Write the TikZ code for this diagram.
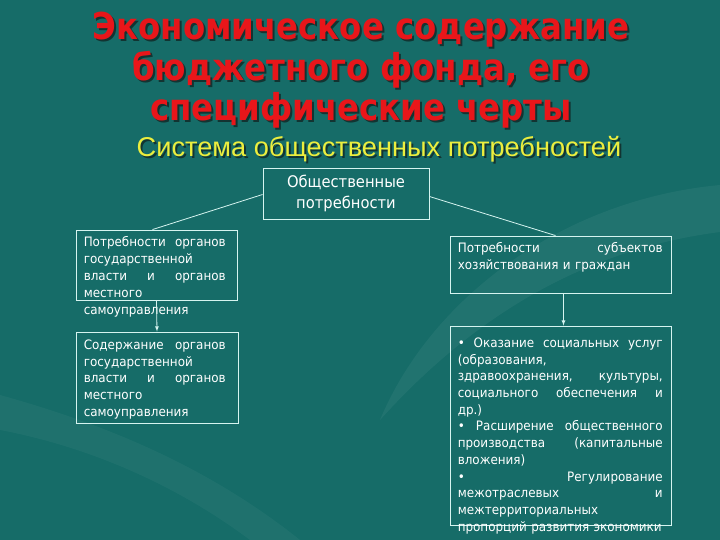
\documentclass[tikz,border=0pt]{standalone}
\usepackage{fontspec}
\setmainfont{DejaVu Sans}
\newfontfamily\titlefont[FakeStretch=0.875]{DejaVu Sans Bold}
\newfontfamily\subfont{Liberation Sans}
\newfontfamily\boxfont[FakeStretch=0.92]{DejaVu Sans}
\usetikzlibrary{positioning}

\definecolor{slidebg}{RGB}{22,108,104}
\definecolor{titlered}{RGB}{232,22,26}
\definecolor{titleshade}{RGB}{18,52,50}
\definecolor{subyellow}{RGB}{236,238,62}
\definecolor{boxline}{RGB}{214,244,240}

% text with a dark shade below right
\newcommand{\shaded}[1]{\makebox[0pt][l]{\hspace{2pt}\raisebox{-2pt}{\color{titleshade}#1}}#1}

\tikzset{
  box/.style={draw=boxline, line width=0.9pt, inner sep=0pt},
  boxtext/.style={text=white, inner sep=0pt, align=left, anchor=north west,
    font=\boxfont\fontsize{13}{16.8}\selectfont},
  link/.style={draw=boxline, line width=0.8pt},
  title/.style={text=titlered, font=\titlefont\fontsize{37}{40}\selectfont,
    anchor=base}
}

\begin{document}
\begin{tikzpicture}[x=1pt,y=-1pt]
  \fill[slidebg] (0,0) rectangle (720,540);
  % faint swooshes of the slide background
  \fill[white, opacity=0.05] (720,185) .. controls (560,200) and (430,300) .. (380,420)
    .. controls (470,320) and (580,250) .. (720,232) -- cycle;
  \fill[white, opacity=0.04] (0,395) .. controls (90,420) and (200,460) .. (300,540)
    -- (250,540) .. controls (170,480) and (80,445) .. (0,430) -- cycle;

  % title
  \foreach \t/\y in {{Экономическое содержание}/40, {бюджетного фонда, его}/81,
    {специфические черты}/121}
    \node[title] (t\y) at (361,\y) {\shaded{\t}};
  \node[text=subyellow, anchor=base, font=\subfont\fontsize{27.2}{30}\selectfont]
    (sub) at (379,157) {\shaded{Система общественных потребностей}};

  % boxes
  \node[box, minimum width=166, minimum height=51, align=center, text=white,
    font=\boxfont\fontsize{16}{21}\selectfont] (soc) at (346,193.5)
    {Общественные\\потребности};
  \node[box, minimum width=161, minimum height=70] (orgneed) at (156.5,265) {};
  \node[box, minimum width=162, minimum height=91] (orgcont) at (157,377.5) {};
  \node[box, minimum width=221, minimum height=57] (subjneed) at (560.5,264.5) {};
  \node[box, minimum width=221, minimum height=199] (services) at (560.5,425.5) {};

  \node[boxtext, text width=142] at ([shift={(8,7)}]orgneed.north west)
    {Потребности\hfill органов\\государственной\\власти\hfill и\hfill органов\\местного\\самоуправления};
  \node[boxtext, text width=142] at ([shift={(8,8)}]orgcont.north west)
    {Содержание\hfill органов\\государственной\\власти\hfill и\hfill органов\\местного\\самоуправления};
  \node[boxtext, text width=205] at ([shift={(8,7)}]subjneed.north west)
    {Потребности\hfill субъектов\\хозяйствования и граждан};
  \node[boxtext, text width=205, font=\boxfont\fontsize{13}{16.7}\selectfont]
    at ([shift={(8,12)}]services.north west)
    {•\hfill Оказание\hfill социальных\hfill услуг\\(образования,\\
     здравоохранения,\hfill культуры,\\социального\hfill обеспечения\hfill и\\др.)\\
     •\hfill Расширение\hfill общественного\\производства\hfill (капитальные\\вложения)\\
     •\hfill Регулирование\\межотраслевых\hfill и\\межтерриториальных\\
     пропорций развития экономики};

  % connectors
  \draw[link] ([yshift=-1]soc.west) -- ([xshift=-4]orgneed.north);
  \draw[link] ([yshift=-3]soc.east) -- ([xshift=-5]subjneed.north);
  \draw[link, -latex] (orgneed.south) -- (orgcont.north);
  \draw[link, -latex] ([xshift=3]subjneed.south) -- ([xshift=3]services.north);
\end{tikzpicture}
\end{document}
